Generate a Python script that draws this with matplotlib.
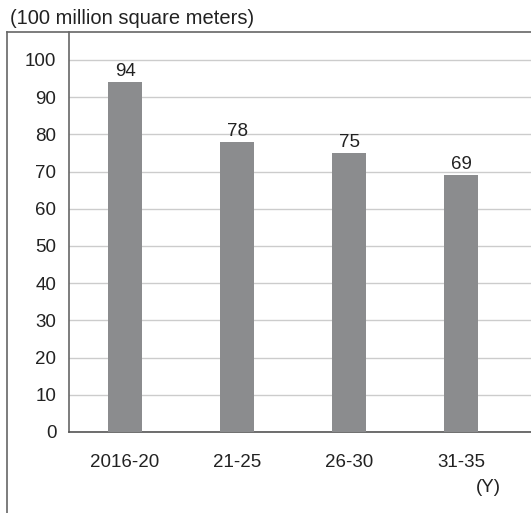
import matplotlib.pyplot as plt
from matplotlib.lines import Line2D

plt.rcParams['font.family'] = ['Liberation Sans', 'DejaVu Sans']

# Periods and floor area (100 million m2)
periodos = ['2016-20', '21-25', '26-30', '31-35']
valores = [94, 78, 75, 69]
ticks_y = [0, 10, 20, 30, 40, 50, 60, 70, 80, 90, 100]

W, H = 531, 513
fig = plt.figure(figsize=(W / 100, H / 100), dpi=100)
ax = fig.add_axes([69 / W, 1 - 432 / H, (W - 69) / W, 400 / H])

x = range(len(periodos))
ax.bar(x, valores, width=0.31, color='#8b8c8e', zorder=3)

for i, v in zip(x, valores):
    ax.text(i, v + 0.6, str(v), ha='center', va='bottom', fontsize=13.5, color='#222222')

ax.set_xlim(-0.5, 3.625)
ax.set_ylim(0, 107.5)
ax.set_yticks(ticks_y)
ax.set_xticks(list(x))
ax.set_xticklabels(periodos)
ax.yaxis.grid(True, color='#cccccc', linewidth=1, zorder=0)
ax.tick_params(length=0, labelsize=13.5, colors='#222222')
ax.tick_params(axis='x', pad=16)
ax.tick_params(axis='y', pad=9)

for s in ['top', 'right']:
    ax.spines[s].set_visible(False)
ax.spines['left'].set_color('#666666')
ax.spines['bottom'].set_color('#555555')
ax.spines['left'].set_linewidth(1.2)
ax.spines['bottom'].set_linewidth(1.2)

# Outer frame
fig.add_artist(Line2D([7 / W, 7 / W], [0, 1 - 32 / H], transform=fig.transFigure, color='#666666', lw=1.2))
fig.add_artist(Line2D([7 / W, 1], [1 - 32 / H, 1 - 32 / H], transform=fig.transFigure, color='#666666', lw=1.2))

fig.text(10 / W, 1 - 18 / H, '(100 million square meters)', fontsize=14.5, va='center', color='#222222')
fig.text(488 / W, 1 - 488 / H, '(Y)', fontsize=13.5, ha='center', va='center', color='#222222')

plt.savefig('out.png', dpi=100)
